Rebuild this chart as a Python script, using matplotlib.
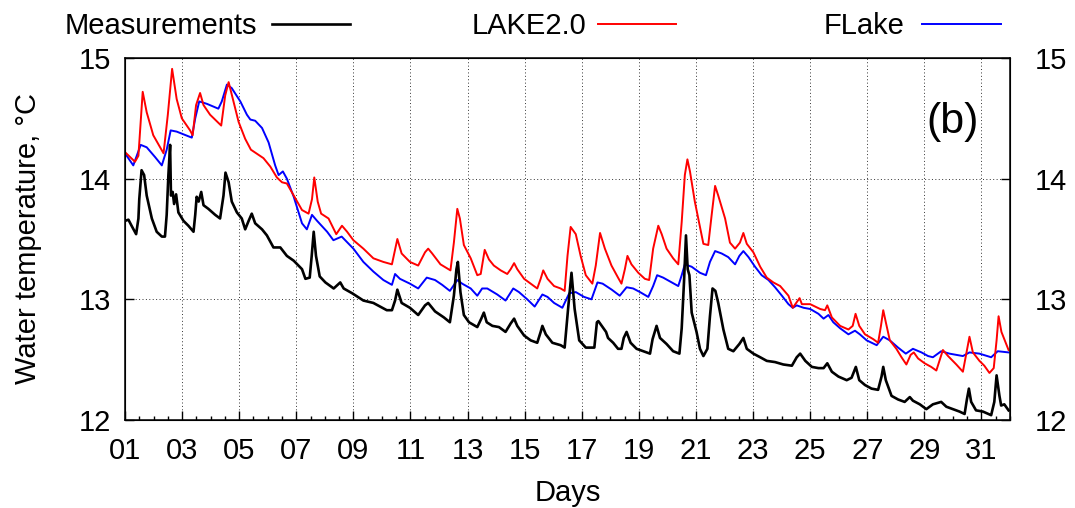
import numpy as np
import matplotlib
matplotlib.use('Agg')
import matplotlib.pyplot as plt
from matplotlib.lines import Line2D

plt.rcParams['font.family'] = ['Liberation Sans', 'DejaVu Sans']

# water temperature, day of month vs deg C
meas_day = [1.00, 1.12, 1.23, 1.39, 1.47, 1.50, 1.58, 1.67, 1.76, 1.94, 2.11, 2.29, 2.40, 2.46,
            2.52, 2.58, 2.61, 2.67, 2.72, 2.79, 2.87, 3.05, 3.22, 3.40, 3.46, 3.51, 3.58, 3.67,
            3.75, 3.92, 4.16, 4.33, 4.45, 4.52, 4.63, 4.74, 4.92, 5.09, 5.21, 5.33, 5.44, 5.56,
            5.80, 5.97, 6.20, 6.44, 6.67, 6.91, 7.20, 7.32, 7.47, 7.54, 7.61, 7.69, 7.82, 8.02,
            8.31, 8.54, 8.66, 8.96, 9.35, 9.70, 10.17, 10.35, 10.46, 10.54, 10.69, 10.98, 11.27,
            11.51, 11.62, 11.86, 12.17, 12.38, 12.52, 12.61, 12.66, 12.75, 12.87, 13.05, 13.34,
            13.48, 13.57, 13.67, 13.87, 14.10, 14.33, 14.51, 14.63, 14.74, 14.98, 15.21, 15.44,
            15.56, 15.62, 15.74, 15.97, 16.26, 16.40, 16.52, 16.64, 16.75, 16.91, 17.14, 17.44,
            17.53, 17.58, 17.70, 17.85, 17.92, 18.10, 18.27, 18.39, 18.47, 18.57, 18.71, 18.92,
            19.15, 19.39, 19.48, 19.62, 19.74, 19.97, 20.20, 20.42, 20.50, 20.58, 20.65, 20.71,
            20.77, 20.85, 21.02, 21.14, 21.26, 21.40, 21.49, 21.58, 21.68, 21.78, 21.96, 22.13,
            22.31, 22.52, 22.66, 22.78, 23.01, 23.25, 23.48, 23.77, 24.06, 24.36, 24.53, 24.65,
            24.83, 25.06, 25.29, 25.47, 25.60, 25.76, 25.99, 26.28, 26.45, 26.60, 26.72, 26.92,
            27.15, 27.38, 27.50, 27.56, 27.65, 27.85, 28.08, 28.31, 28.49, 28.60, 28.84, 29.07,
            29.30, 29.59, 29.77, 30.00, 30.23, 30.41, 30.49, 30.56, 30.64, 30.81, 31.05, 31.34,
            31.45, 31.53, 31.63, 31.69, 31.80, 31.95]
meas_temp = [13.65, 13.66, 13.61, 13.54, 13.67, 13.83, 14.07, 14.03, 13.86, 13.67, 13.56, 13.52,
             13.52, 13.70, 14.03, 14.28, 13.86, 13.89, 13.79, 13.87, 13.72, 13.65, 13.61, 13.56,
             13.70, 13.85, 13.81, 13.89, 13.78, 13.75, 13.70, 13.67, 13.86, 14.05, 13.97, 13.81,
             13.72, 13.67, 13.58, 13.65, 13.71, 13.63, 13.58, 13.53, 13.43, 13.43, 13.36, 13.32,
             13.25, 13.17, 13.18, 13.36, 13.56, 13.36, 13.19, 13.14, 13.09, 13.14, 13.09, 13.05,
             12.99, 12.97, 12.91, 12.91, 12.99, 13.08, 12.97, 12.93, 12.87, 12.95, 12.97, 12.90,
             12.85, 12.81, 13.03, 13.25, 13.31, 13.06, 12.87, 12.81, 12.77, 12.84, 12.89, 12.81,
             12.78, 12.77, 12.73, 12.80, 12.84, 12.78, 12.70, 12.66, 12.64, 12.73, 12.78, 12.71,
             12.64, 12.62, 12.60, 12.92, 13.22, 12.92, 12.66, 12.60, 12.60, 12.81, 12.82, 12.78,
             12.73, 12.68, 12.64, 12.59, 12.59, 12.68, 12.73, 12.64, 12.59, 12.57, 12.55, 12.67,
             12.78, 12.68, 12.63, 12.57, 12.55, 12.76, 13.14, 13.53, 13.25, 13.20, 12.89, 12.73,
             12.59, 12.53, 12.59, 12.86, 13.09, 13.07, 12.97, 12.75, 12.59, 12.57, 12.63, 12.68,
             12.59, 12.55, 12.52, 12.49, 12.48, 12.46, 12.45, 12.52, 12.55, 12.49, 12.44, 12.43,
             12.43, 12.47, 12.40, 12.36, 12.33, 12.35, 12.44, 12.33, 12.29, 12.26, 12.25, 12.36,
             12.44, 12.33, 12.20, 12.17, 12.15, 12.19, 12.16, 12.13, 12.09, 12.13, 12.15, 12.11,
             12.09, 12.07, 12.05, 12.17, 12.26, 12.15, 12.08, 12.07, 12.04, 12.15, 12.37, 12.20,
             12.12, 12.13, 12.08]

lake_day = [1.00, 1.35, 1.47, 1.62, 1.76, 1.99, 2.35, 2.50, 2.65, 2.81, 2.99, 3.28, 3.37, 3.49,
            3.63, 3.75, 3.98, 4.37, 4.51, 4.63, 4.80, 4.98, 5.21, 5.41, 5.85, 6.09, 6.32, 6.50,
            6.67, 6.91, 7.20, 7.43, 7.55, 7.63, 7.75, 7.87, 8.13, 8.40, 8.60, 8.78, 9.00, 9.35,
            9.70, 10.05, 10.35, 10.46, 10.54, 10.69, 10.98, 11.27, 11.51, 11.62, 11.76, 12.05,
            12.40, 12.52, 12.64, 12.73, 12.87, 13.11, 13.34, 13.46, 13.60, 13.75, 13.92, 14.16,
            14.39, 14.51, 14.63, 14.74, 14.98, 15.21, 15.44, 15.56, 15.65, 15.80, 16.03, 16.26,
            16.40, 16.50, 16.61, 16.79, 16.96, 17.14, 17.37, 17.49, 17.64, 17.81, 18.04, 18.27,
            18.39, 18.51, 18.60, 18.74, 18.98, 19.21, 19.36, 19.50, 19.68, 19.80, 19.97, 20.20,
            20.38, 20.50, 20.61, 20.70, 20.79, 20.96, 21.08, 21.26, 21.43, 21.55, 21.67, 21.78,
            22.02, 22.19, 22.37, 22.54, 22.66, 22.78, 23.01, 23.25, 23.48, 23.71, 23.95, 24.24,
            24.39, 24.51, 24.63, 24.71, 25.00, 25.35, 25.52, 25.60, 25.76, 26.05, 26.34, 26.49,
            26.59, 26.72, 26.92, 27.21, 27.38, 27.48, 27.56, 27.65, 27.79, 28.02, 28.20, 28.37,
            28.52, 28.63, 28.78, 29.01, 29.24, 29.42, 29.53, 29.65, 29.83, 30.12, 30.35, 30.47,
            30.58, 30.70, 30.93, 31.10, 31.28, 31.43, 31.53, 31.60, 31.70, 31.80, 31.95]
lake_temp = [14.22, 14.14, 14.19, 14.72, 14.55, 14.36, 14.21, 14.53, 14.91, 14.66, 14.50, 14.40,
             14.36, 14.61, 14.71, 14.61, 14.53, 14.44, 14.69, 14.80, 14.64, 14.47, 14.33, 14.24,
             14.17, 14.10, 14.01, 13.97, 13.96, 13.86, 13.74, 13.71, 13.83, 14.01, 13.81, 13.71,
             13.67, 13.54, 13.61, 13.56, 13.49, 13.42, 13.34, 13.31, 13.29, 13.41, 13.50, 13.38,
             13.31, 13.28, 13.39, 13.42, 13.38, 13.29, 13.24, 13.47, 13.75, 13.67, 13.45, 13.34,
             13.20, 13.21, 13.41, 13.33, 13.28, 13.24, 13.21, 13.25, 13.30, 13.25, 13.17, 13.13,
             13.09, 13.17, 13.24, 13.17, 13.11, 13.09, 13.07, 13.36, 13.60, 13.54, 13.36, 13.20,
             13.13, 13.28, 13.55, 13.42, 13.28, 13.18, 13.13, 13.25, 13.36, 13.29, 13.22, 13.17,
             13.16, 13.42, 13.61, 13.54, 13.42, 13.34, 13.29, 13.64, 14.03, 14.16, 14.06, 13.81,
             13.67, 13.46, 13.45, 13.70, 13.94, 13.86, 13.67, 13.47, 13.42, 13.47, 13.55, 13.46,
             13.39, 13.27, 13.18, 13.14, 13.11, 13.03, 12.93, 12.97, 13.01, 12.96, 12.96, 12.92,
             12.91, 12.95, 12.85, 12.78, 12.75, 12.78, 12.88, 12.78, 12.71, 12.67, 12.64, 12.78,
             12.91, 12.81, 12.66, 12.59, 12.52, 12.46, 12.54, 12.56, 12.51, 12.47, 12.44, 12.41,
             12.49, 12.58, 12.53, 12.46, 12.40, 12.55, 12.69, 12.56, 12.49, 12.45, 12.39, 12.43,
             12.66, 12.86, 12.73, 12.67, 12.58]

flake_day = [1.00, 1.29, 1.55, 1.76, 2.05, 2.29, 2.46, 2.60, 2.81, 3.34, 3.46, 3.60, 3.87, 4.27,
             4.39, 4.57, 4.74, 5.04, 5.27, 5.39, 5.56, 5.80, 6.03, 6.26, 6.38, 6.53, 6.67, 6.91,
             7.20, 7.37, 7.55, 7.73, 8.08, 8.30, 8.59, 9.00, 9.35, 9.70, 10.05, 10.35, 10.46,
             10.63, 10.98, 11.27, 11.57, 11.86, 12.11, 12.38, 12.64, 12.81, 13.11, 13.34, 13.51,
             13.69, 14.04, 14.33, 14.60, 14.80, 15.09, 15.35, 15.62, 15.80, 16.03, 16.32, 16.56,
             16.79, 17.08, 17.34, 17.55, 17.73, 18.05, 18.33, 18.57, 18.80, 19.04, 19.33, 19.50,
             19.64, 19.85, 20.15, 20.38, 20.50, 20.61, 20.85, 21.14, 21.35, 21.49, 21.67, 21.90,
             22.13, 22.37, 22.52, 22.66, 22.84, 23.07, 23.30, 23.54, 23.77, 24.01, 24.24, 24.39,
             24.53, 24.77, 25.00, 25.29, 25.47, 25.64, 25.81, 26.05, 26.34, 26.57, 26.74, 26.98,
             27.33, 27.56, 27.79, 28.08, 28.35, 28.60, 28.90, 29.13, 29.30, 29.59, 29.88, 30.12,
             30.35, 30.58, 30.93, 31.34, 31.57, 31.95]
flake_temp = [14.21, 14.11, 14.28, 14.26, 14.18, 14.11, 14.24, 14.40, 14.39, 14.34, 14.50, 14.64,
              14.62, 14.58, 14.64, 14.78, 14.75, 14.64, 14.53, 14.49, 14.48, 14.42, 14.30, 14.11,
              14.03, 14.06, 14.00, 13.85, 13.63, 13.58, 13.70, 13.65, 13.56, 13.49, 13.52, 13.42,
              13.31, 13.23, 13.16, 13.12, 13.21, 13.17, 13.13, 13.09, 13.18, 13.16, 13.12, 13.07,
              13.16, 13.13, 13.09, 13.03, 13.09, 13.09, 13.04, 12.99, 13.09, 13.06, 13.00, 12.94,
              13.04, 13.02, 12.97, 12.93, 13.05, 13.06, 13.02, 13.00, 13.14, 13.13, 13.08, 13.03,
              13.10, 13.09, 13.06, 13.02, 13.11, 13.20, 13.18, 13.14, 13.11, 13.20, 13.29, 13.27,
              13.22, 13.20, 13.31, 13.40, 13.38, 13.35, 13.29, 13.36, 13.40, 13.35, 13.27, 13.20,
              13.16, 13.10, 13.03, 12.96, 12.93, 12.95, 12.93, 12.92, 12.88, 12.84, 12.87, 12.81,
              12.76, 12.71, 12.74, 12.71, 12.66, 12.62, 12.69, 12.66, 12.60, 12.55, 12.59, 12.56,
              12.53, 12.52, 12.57, 12.55, 12.54, 12.53, 12.56, 12.55, 12.52, 12.57, 12.56]

day_ticks = [1, 3, 5, 7, 9, 11, 13, 15, 17, 19, 21, 23, 25, 27, 29, 31]
day_labels = ['%02d' % d for d in day_ticks]
temp_ticks = [12, 13, 14, 15]
series_names = ['Measurements', 'LAKE2.0', 'FLake']
series_colors = ['black', '#ff0000', '#0000ff']

FS = 21

fig = plt.figure(figsize=(10.75, 5.08), dpi=100)
ax = fig.add_axes([125 / 1075, 88 / 508, 885 / 1075, 362 / 508])

ax.plot(flake_day, flake_temp, color=series_colors[2], lw=1.4)
ax.plot(lake_day, lake_temp, color=series_colors[1], lw=1.4)
ax.plot(meas_day, meas_temp, color=series_colors[0], lw=1.9)

ax.set_xlim(1, 32)
ax.set_ylim(12, 15)
ax.set_xticks(day_ticks)
ax.set_xticklabels(day_labels)
ax.set_xticks(np.arange(1, 32.01, 0.5), minor=True)
ax.set_yticks(temp_ticks)
ax.grid(True, which='major', linestyle=(0, (1, 2.5)), color='#333333', lw=0.7)
ax.tick_params(which='both', direction='in', labelsize=FS, top=False, right=False)
ax.tick_params(which='major', length=6.5, width=1.0)
ax.tick_params(which='minor', length=3, width=1.0)
ax.tick_params(axis='x', pad=12)
ax.tick_params(axis='y', pad=10)
for s in ax.spines.values():
    s.set_linewidth(1.1)

# y2 axis with labels, gnuplot style
ax2 = ax.twinx()
ax2.set_ylim(12, 15)
ax2.set_yticks(temp_ticks)
ax2.tick_params(direction='in', labelsize=FS, length=6.5, width=1.0, pad=18)

ax.set_xlabel('Days', fontsize=FS)
ax.xaxis.set_label_coords(0.5, -0.163)
ax.set_ylabel('Water temperature, \u00b0C', fontsize=FS)
ax.yaxis.set_label_coords(-0.094, 0.5)

ax.text(0.9356, 0.793, '(b)', transform=ax.transAxes, fontsize=31, ha='center', va='baseline')

# key on top: text first, then line sample
key_text_right = [257, 586, 905]
key_line = [(272, 350), (598, 676), (922, 1001)]
for name, col, xr, (x0, x1) in zip(series_names, series_colors, key_text_right, key_line):
    fig.text(xr / 1075, 1 - 34 / 508, name, ha='right', va='baseline', fontsize=FS)
    lw = 1.9 if col == 'black' else 1.4
    fig.add_artist(Line2D([x0 / 1075, x1 / 1075], [1 - 24 / 508, 1 - 24 / 508],
                          transform=fig.transFigure, color=col, lw=lw))

fig.savefig('out.png', dpi=100)
